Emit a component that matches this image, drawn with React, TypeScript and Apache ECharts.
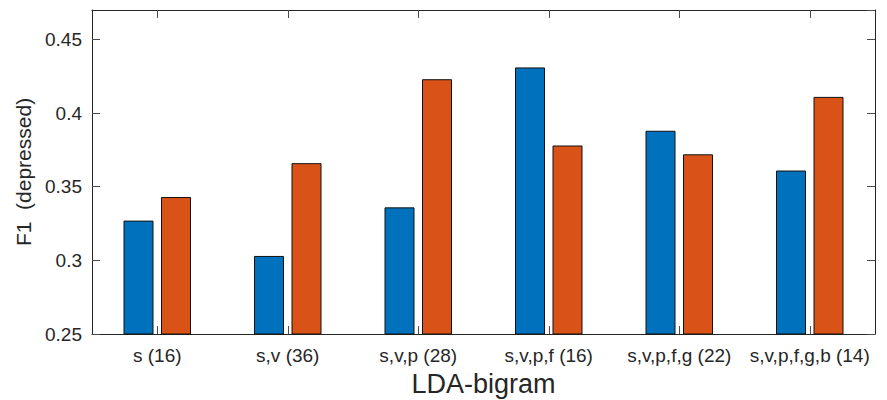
import React, { useEffect, useRef } from "react";
import * as echarts from "echarts";

const categories = [
  "s (16)",
  "s,v (36)",
  "s,v,p (28)",
  "s,v,p,f (16)",
  "s,v,p,f,g (22)",
  "s,v,p,f,g,b (14)",
];
const blueValues = [0.327, 0.303, 0.336, 0.431, 0.388, 0.361];
const orangeValues = [0.343, 0.366, 0.423, 0.378, 0.372, 0.411];
const yMin = 0.25;
const yMax = 0.47;
const yStep = 0.05;

const FONT = "'Liberation Sans', Arial, Helvetica, sans-serif";
const TXT = "#262626";
const AX = "#262626";
const TICK = "#4a4a4a";

const fmtY = (v: number) => {
  const k = v / yStep;
  if (Math.abs(k - Math.round(k)) > 1e-6) return "";
  return String(+v.toFixed(2));
};

export default function App() {
  const ref = useRef<HTMLDivElement>(null);
  useEffect(() => {
    if (!ref.current) return;
    const chart = echarts.init(ref.current, undefined, { renderer: "svg" });
    const yBase = {
      type: "value" as const,
      min: yMin,
      max: yMax,
      interval: yStep,
      splitLine: { show: false },
      axisLine: { show: true, lineStyle: { color: AX, width: 1 } },
      axisTick: { show: true, inside: true, length: 8, lineStyle: { color: TICK } },
    };
    const xBase = {
      type: "category" as const,
      data: categories,
      axisLine: { show: true, onZero: false, lineStyle: { color: AX, width: 1 } },
      axisTick: { show: true, inside: true, length: 8, alignWithLabel: true, lineStyle: { color: TICK } },
      splitLine: { show: false },
    };
    chart.setOption({
      animation: false,
      backgroundColor: "#ffffff",
      textStyle: { fontFamily: FONT },
      grid: {
        left: 92,
        right: 12,
        top: 10,
        bottom: 66,
        show: false,
        containLabel: false,
        outerBoundsMode: "none",
      },
      xAxis: [
        {
          ...xBase,
          position: "bottom",
          name: "LDA-bigram",
          nameLocation: "middle",
          nameGap: 35,
          nameTextStyle: { fontSize: 27, lineHeight: 29, color: TXT, fontFamily: FONT },
          axisLabel: { fontSize: 19, color: TXT, margin: 12, fontFamily: FONT, interval: 0 },
        },
        {
          ...xBase,
          position: "top",
          axisLabel: { show: false },
        },
      ],
      yAxis: [
        {
          ...yBase,
          position: "left",
          name: "F1  (depressed)",
          nameLocation: "middle",
          nameGap: 51,
          nameTextStyle: { fontSize: 21, color: TXT, fontFamily: FONT },
          axisLabel: {
            fontSize: 19,
            color: TXT,
            margin: 10,
            fontFamily: FONT,
            formatter: fmtY,
            showMaxLabel: false,
          },
        },
        {
          ...yBase,
          position: "right",
          axisLabel: { show: false },
        },
      ],
      series: [
        {
          name: "Series 1",
          type: "bar",
          data: blueValues,
          barWidth: 30,
          barGap: "25%",
          itemStyle: { color: "#0072BD", borderColor: "#111111", borderWidth: 1 },
        },
        {
          name: "Series 2",
          type: "bar",
          data: orangeValues,
          barWidth: 30,
          barGap: "25%",
          itemStyle: { color: "#D95319", borderColor: "#111111", borderWidth: 1 },
        },
      ],
    });
    return () => chart.dispose();
  }, []);
  return (
    <div
      ref={ref}
      style={{ position: "absolute", left: 0, top: 0, width: 887, height: 400 }}
    />
  );
}
